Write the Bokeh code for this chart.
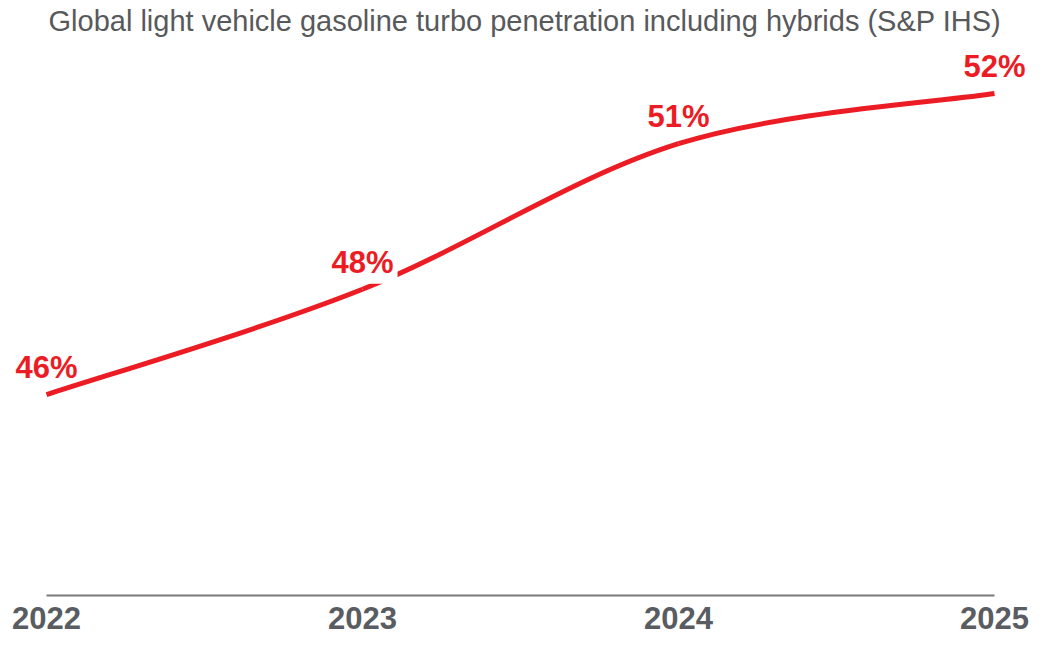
from bokeh.plotting import figure
from bokeh.models import FixedTicker, Range1d, ColumnDataSource
from bokeh.embed import file_html
from bokeh.resources import INLINE
from bokeh.core.properties import value

# ---- data ----
years = [2022, 2023, 2024, 2025]
penetration = [46.0, 48.1, 51.0, 52.0]
labels = ["46%", "48%", "51%", "52%"]
title_text = "Global light vehicle gasoline turbo penetration including hybrids (S&P IHS)"

RED = "#ec1c24"
GREY = "#595c60"
# only the 2023 label is knocked out of the line with a white box
LABEL_BG_ALPHA = [0.0, 1.0, 0.0, 0.0]

W, H = 1032, 639
TOP, BOTTOM = 36, 44
# pixel placement of the first / last year on the canvas
X_FIRST, X_LAST = 46, 994
ppy = (X_LAST - X_FIRST) / (years[-1] - years[0])
x_start = years[0] - X_FIRST / ppy
x_end = years[-1] + (W - X_LAST) / ppy
Y_MIN = 42.0
ppu = 50.2
y_end = Y_MIN + (H - TOP - BOTTOM) / ppu

p = figure(width=W, height=H, output_backend="svg", toolbar_location=None,
           x_range=Range1d(x_start, x_end), y_range=Range1d(Y_MIN, y_end),
           min_border_left=0, min_border_right=0, min_border_top=TOP,
           min_border_bottom=BOTTOM)
p.outline_line_color = None
p.xgrid.visible = False
p.ygrid.visible = False
p.yaxis.visible = False
p.background_fill_color = "white"
p.border_fill_color = "white"

# title
p.title.text = title_text
p.title.text_font = "Liberation Sans"
p.title.text_font_size = "29px"
p.title.text_font_style = "normal"
p.title.text_color = "#58595b"
p.title.align = "left"
p.title.offset = 48
p.title.standoff = 0

# x axis
ax = p.xaxis[0]
ax.ticker = FixedTicker(ticks=years)
ax.bounds = (years[0], years[-1])
ax.major_tick_line_color = None
ax.minor_tick_line_color = None
ax.axis_line_color = "#7a7a7a"
ax.axis_line_width = 2
ax.major_label_text_font = "Liberation Sans"
ax.major_label_text_font_style = "bold"
ax.major_label_text_font_size = "31px"
ax.major_label_text_color = GREY
ax.major_label_standoff = 5

# smoothed line (Excel-like bezier smoothing computed from data)
n = len(years)
x0, y0, x1, y1, cx0, cy0, cx1, cy1 = [], [], [], [], [], [], [], []
for i in range(n - 1):
    xp, yp = (years[i - 1], penetration[i - 1]) if i > 0 else (years[i], penetration[i])
    xn2, yn2 = (years[i + 2], penetration[i + 2]) if i + 2 < n else (years[i + 1], penetration[i + 1])
    xa, ya = years[i], penetration[i]
    xb, yb = years[i + 1], penetration[i + 1]
    x0.append(xa); y0.append(ya); x1.append(xb); y1.append(yb)
    cx0.append(xa + (xb - xp) / 6.0); cy0.append(ya + (yb - yp) / 6.0)
    cx1.append(xb - (xn2 - xa) / 6.0); cy1.append(yb - (yn2 - ya) / 6.0)

p.bezier(x0=x0, y0=y0, x1=x1, y1=y1, cx0=cx0, cy0=cy0, cx1=cx1, cy1=cy1,
         line_color=RED, line_width=5)

src = ColumnDataSource(dict(x=years, y=penetration, t=labels, bga=LABEL_BG_ALPHA))
p.text(x="x", y="y", text="t", source=src, text_align="center",
       text_baseline="middle", y_offset=-27, text_color=RED,
       text_font=value("Liberation Sans"), text_font_style="bold",
       text_font_size="31px", background_fill_color="white",
       background_fill_alpha="bga", padding=4)

open("out.html", "w").write(file_html(p, INLINE))
